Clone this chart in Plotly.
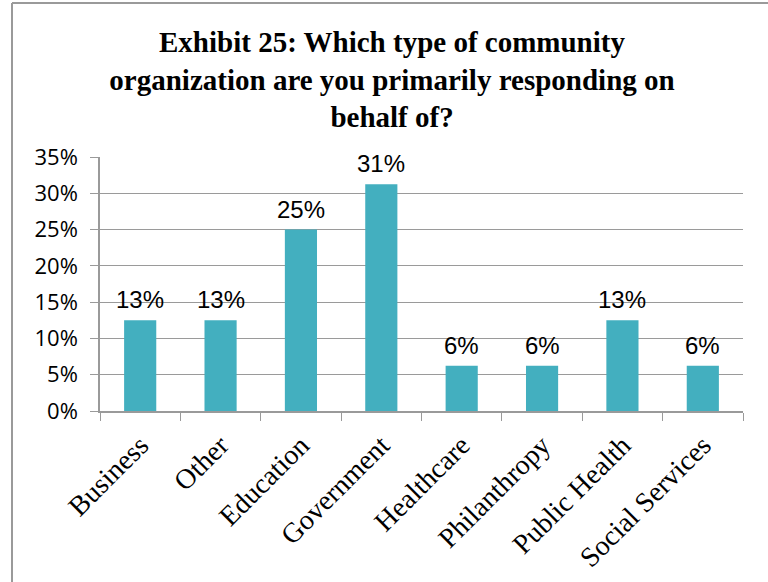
import plotly.graph_objects as go

categories = ["Business", "Other", "Education", "Government", "Healthcare",
              "Philanthropy", "Public Health", "Social Services"]
values = [0.125, 0.125, 0.25, 0.3125, 0.0625, 0.0625, 0.125, 0.0625]
y_ticks = [0, 0.05, 0.10, 0.15, 0.20, 0.25, 0.30, 0.35]
title_text = ("Exhibit 25: Which type of community<br>"
              "organization are you primarily responding on<br>behalf of?")

fig = go.Figure(go.Bar(
    x=categories, y=values,
    marker=dict(color="#43AFBF", line=dict(width=0)),
))

# data labels formatted like Excel (round half up)
labels = [f"{int(v * 100 + 0.5)}%" for v in values]
annotations = [
    dict(x=c, y=v, xref="x", yref="y", text=t, showarrow=False,
         yanchor="bottom", yshift=5,
         font=dict(family="Liberation Sans", size=24, color="#000000"))
    for c, v, t in zip(categories, values, labels)
]

fig.update_layout(
    width=768, height=582,
    margin=dict(l=100, r=25, t=157, b=171),
    paper_bgcolor="white", plot_bgcolor="white",
    bargap=0.6,
    showlegend=False,
    annotations=annotations,
    title=dict(text=title_text, x=392 / 768, xref="container", xanchor="center",
               y=1 - 52 / 582, yanchor="top", yref="container",
               font=dict(family="Liberation Serif", size=29, color="#000000",
                         weight="bold")),
    shapes=[
        dict(type="line", xref="paper", yref="paper",
             x0=(12 - 100) / 643, x1=(12 - 100) / 643,
             y0=(411 - 3) / 254, y1=(411 - 600) / 254,
             line=dict(color="#9A9A9A", width=2)),
        dict(type="line", xref="paper", yref="paper",
             x0=(12 - 100) / 643, x1=(800 - 100) / 643,
             y0=(411 - 3) / 254, y1=(411 - 3) / 254,
             line=dict(color="#9A9A9A", width=2)),
    ],
)

fig.update_xaxes(
    type="category", tickangle=-45, tickson="boundaries",
    ticks="outside", ticklen=8, tickcolor="#9A9A9A",
    showline=True, linecolor="#9A9A9A", linewidth=1.5,
    showgrid=False, ticklabelstandoff=5, automargin=False,
    tickfont=dict(family="Liberation Serif", size=28, color="#000000"),
)
fig.update_yaxes(
    range=[0, 0.35], tickvals=y_ticks, tickformat=".0%",
    ticks="outside", ticklen=8, tickcolor="#9A9A9A",
    showline=True, linecolor="#9A9A9A", linewidth=1.5,
    showgrid=True, gridcolor="#9A9A9A", gridwidth=1,
    zeroline=False, ticklabelstandoff=8, automargin=False,
    tickfont=dict(family="Open Sans", size=22, color="#000000"),
)

fig.write_html("out.html")
